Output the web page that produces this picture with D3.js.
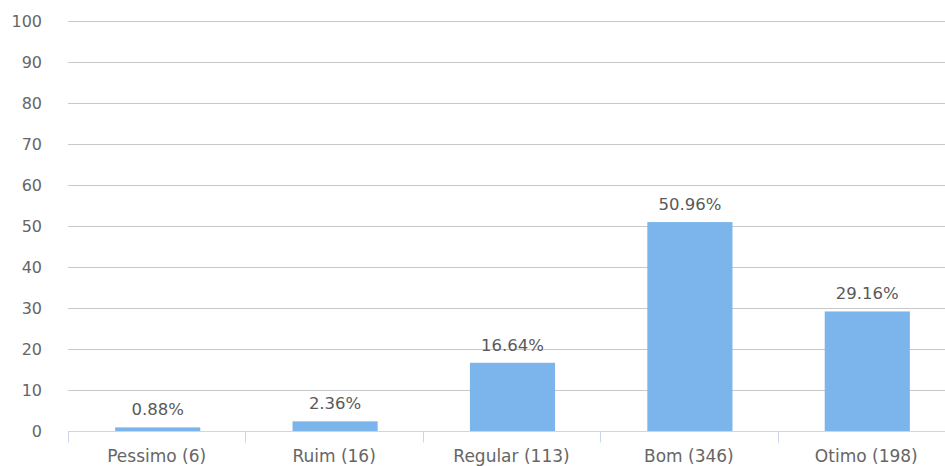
<!DOCTYPE html>
<html><head><meta charset="utf-8">
<script src="https://cdn.jsdelivr.net/npm/d3@7"></script>
<style>body{margin:0;background:#fff}svg{display:block;font-family:"DejaVu Sans",sans-serif}</style>
</head><body><svg id="c" width="945" height="466"></svg>
<script>
const categories = ["Pessimo (6)", "Ruim (16)", "Regular (113)", "Bom (346)", "Otimo (198)"];
const values = [0.88, 2.36, 16.64, 50.96, 29.16];
const yTicks = [0, 10, 20, 30, 40, 50, 60, 70, 80, 90, 100];

const svg = d3.select("#c");
const x = d3.scaleBand().domain(categories).range([68, 955]).paddingInner(0).paddingOuter(0);
const y = d3.scaleLinear().domain([0, 100]).range([431, 21]);

// gridlines
svg.append("g").selectAll("line").data(yTicks.filter(d => d > 0)).join("line")
  .attr("x1", 68).attr("x2", 945)
  .attr("y1", d => Math.round(y(d)) + 0.5).attr("y2", d => Math.round(y(d)) + 0.5)
  .attr("stroke", "#c8c8c8").attr("stroke-width", 1);

// y labels
svg.append("g").selectAll("text").data(yTicks).join("text")
  .attr("x", 42).attr("y", d => y(d)).attr("dy", "0.35em")
  .attr("text-anchor", "end").attr("fill", "#666").attr("font-size", 16)
  .text(d => d);

// bars
const bw = x.bandwidth() * 0.48;
svg.append("g").selectAll("rect").data(values).join("rect")
  .attr("x", (d, i) => x(categories[i]) + x.bandwidth() / 2 - bw / 2 + 1)
  .attr("width", bw)
  .attr("y", d => y(d))
  .attr("height", d => y(0) - y(d))
  .attr("fill", "#7cb5ec");

// x axis
const gx = svg.append("g").attr("transform", `translate(0,${y(0) + 0.5})`);
gx.append("line").attr("x1", 68).attr("x2", 945).attr("stroke", "#ccd6eb");
gx.selectAll("line.t").data(categories).join("line").attr("class", "t")
  .attr("x1", d => Math.round(x(d)) + 0.5).attr("x2", d => Math.round(x(d)) + 0.5)
  .attr("y1", 0).attr("y2", 11).attr("stroke", "#ccd6eb");
gx.selectAll("text").data(categories).join("text")
  .attr("x", d => x(d) + x.bandwidth() / 2).attr("y", 30)
  .attr("text-anchor", "middle").attr("fill", "#666").attr("font-size", 17)
  .text(d => d);

// data labels
svg.append("g").selectAll("text").data(values).join("text")
  .attr("x", (d, i) => x(categories[i]) + x.bandwidth() / 2 + 1)
  .attr("y", d => y(d) - 12)
  .attr("text-anchor", "middle").attr("fill", "#595959").attr("font-size", 16.5)
  .text(d => d.toFixed(2) + "%");
</script></body></html>
